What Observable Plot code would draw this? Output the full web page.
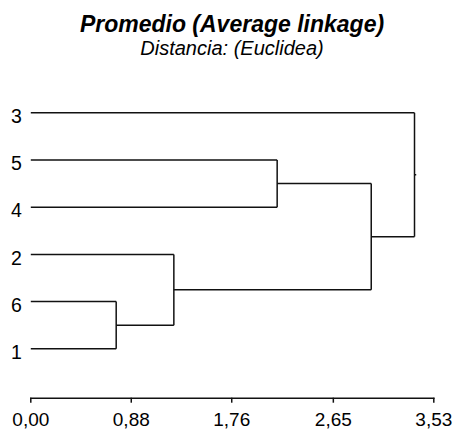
<!DOCTYPE html>
<html><head><meta charset="utf-8">
<script src="https://cdn.jsdelivr.net/npm/d3@7"></script>
<script src="https://cdn.jsdelivr.net/npm/@observablehq/plot@0.6"></script>
<style>
body{margin:0;background:#fff;font-family:"Liberation Sans",Arial,sans-serif;}
#wrap{width:454px;height:429px;position:relative;overflow:hidden;background:#fff}
#head{position:relative;height:62px}
.t{position:absolute;left:0;width:464px;text-align:center;white-space:nowrap;line-height:1;color:#000}
#title{top:12.6px;font-size:23px;font-weight:bold;font-style:italic}
#sub{top:37.7px;font-size:20px;font-style:italic}
</style></head><body>
<div id="wrap">
  <div id="head">
    <div class="t" id="title">Promedio (Average linkage)</div>
    <div class="t" id="sub">Distancia: (Euclidea)</div>
  </div>
  <div id="chart"></div>
</div>
<script>
// Leaves, top to bottom
const leaves = ["3", "5", "4", "2", "6", "1"];
// Merge steps: cluster "c<i>" joins mergeA[i] and mergeB[i] at mergeHeight[i]
const mergeA = ["6", "2", "5", "c2", "3"];
const mergeB = ["1", "c0", "4", "c1", "c3"];
const mergeHeight = [0.748, 1.253, 2.158, 2.982, 3.361];
// Axis ticks
const xTicks = [0, 0.88, 1.76, 2.65, 3.53];
const xTickLabels = ["0,00", "0,88", "1,76", "2,65", "3,53"];

// Build dendrogram segments from the merge table
const pos = {};
leaves.forEach((l, i) => pos[l] = {x: 0, y: i});
const segs = [];
mergeA.forEach((a, i) => {
  const A = pos[a], B = pos[mergeB[i]], h = mergeHeight[i];
  segs.push({x1: A.x, y1: A.y, x2: h, y2: A.y});
  segs.push({x1: B.x, y1: B.y, x2: h, y2: B.y});
  segs.push({x1: h, y1: A.y, x2: h, y2: B.y});
  pos["c" + i] = {x: h, y: (A.y + B.y) / 2};
});
const root = pos["c" + (mergeA.length - 1)];
segs.push({x1: root.x, y1: root.y, x2: root.x + 0.015, y2: root.y});

const chart = Plot.plot({
  width: 454,
  height: 367,
  marginLeft: 30.3,
  marginRight: 20.7,
  marginTop: 20,
  marginBottom: 31.3,
  x: {domain: [0, 3.53]},
  y: {domain: [0, leaves.length - 1], range: [50.3, 286.3]},
  style: {fontFamily: "'Liberation Sans', Arial, sans-serif", fontSize: "19.5px", color: "black", background: "white", overflow: "visible"},
  marks: [
    Plot.link(segs, {x1: "x1", y1: "y1", x2: "x2", y2: "y2", stroke: "#111", strokeWidth: 1.5}),
    Plot.frame({anchor: "bottom", stroke: "#111", strokeWidth: 1.5}),
    Plot.axisX({ticks: xTicks, tickFormat: d => xTickLabels[xTicks.indexOf(d)], tickSize: 5, tickPadding: 9, fontSize: 19, strokeWidth: 1.5, stroke: "#111", label: null}),
    Plot.axisY({ticks: d3.range(leaves.length), tickFormat: i => leaves[i], tickSize: 0, tickPadding: 9, dy: 4, label: null})
  ]
});
document.getElementById("chart").appendChild(chart);
</script>
</body></html>
